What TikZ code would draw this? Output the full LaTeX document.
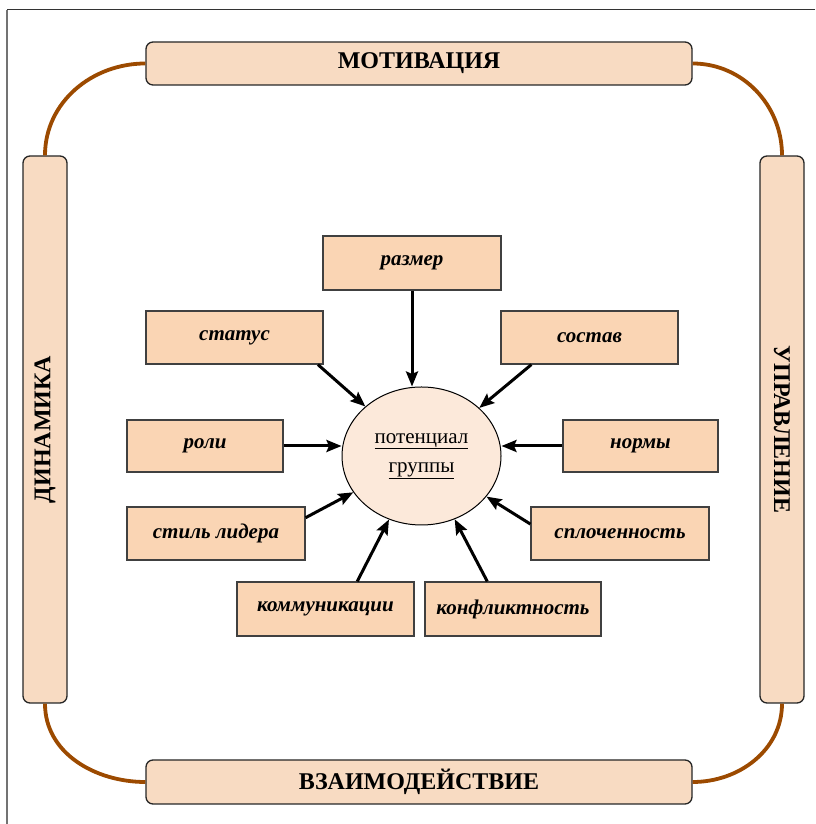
\documentclass[tikz,border=0pt]{standalone}
\usepackage{fontspec}
\setmainfont{Liberation Serif}
\usetikzlibrary{arrows.meta,shapes.geometric}
\definecolor{sidefill}{RGB}{248,219,194}
\definecolor{factorfill}{RGB}{250,213,180}
\definecolor{potfill}{RGB}{252,233,218}
\definecolor{linkbrown}{RGB}{156,74,0}
\tikzset{
  sidebox/.style={draw=black!85, line width=1.3pt, rounded corners=7pt, fill=sidefill, minimum width=546pt, minimum height=43pt, inner sep=0pt, font=\bfseries\fontsize{24}{28}\selectfont},
  factor/.style={draw=black!75, line width=1.2pt, fill=factorfill, minimum width=177pt, minimum height=53pt, inner sep=0pt, font=\bfseries\itshape\fontsize{21}{25}\selectfont},
  potnode/.style={draw, line width=1pt, ellipse, fill=potfill, minimum width=159pt, minimum height=138pt, inner sep=0pt, align=center, font=\fontsize{21}{29}\selectfont},
  potarrow/.style={-{Stealth[length=15pt,width=12pt,inset=2.5pt]}, line width=3pt},
  sidelink/.style={linkbrown, line width=3.8pt}
}

\begin{document}
\begin{tikzpicture}[x=1pt, y=1pt]
\useasboundingbox (0,0) rectangle (815,824);
\draw[black!80, line width=1pt] (815,814) -- (7,814);
\draw[black!55, line width=1.5pt] (7,814) -- (7,0);
% frame of four
\node[sidebox] (motiv) at (419,760.5) {МОТИВАЦИЯ};
\node[sidebox, minimum height=44pt] (vzaim) at (419,42) {ВЗАИМОДЕЙСТВИЕ};
\node[sidebox, minimum width=547pt, minimum height=44pt, rotate=90] (dinam) at (45,394.5) {ДИНАМИКА};
\node[sidebox, minimum width=547pt, minimum height=44pt, rotate=-90] (uprav) at (782,394.5) {УПРАВЛЕНИЕ};
\draw[sidelink] (motiv.west) to[out=180,in=90] (dinam.east);
\draw[sidelink] (motiv.east) to[out=0,in=90] (uprav.west);
\draw[sidelink] (vzaim.east) to[out=0,in=-90] (uprav.east);
\draw[sidelink] (vzaim.west) to[out=180,in=-90] (dinam.west);
% centre and factors
\node[potnode] (pot) at (421.5,368) {\underline{потенциал}\\\underline{группы}};
\node[factor, minimum width=178pt, minimum height=54pt] (razmer) at (412,561) {размер};
\node[factor] (status) at (234.5,486.5) {статус};
\node[factor] (sostav) at (589.5,486.5) {состав};
\node[factor, minimum width=156pt, minimum height=52pt] (roli) at (205,378) {роли};
\node[factor, minimum width=155pt, minimum height=52pt] (normy) at (640.5,378) {нормы};
\node[factor, minimum width=178pt] (lider) at (216,290.5) {стиль лидера};
\node[factor, minimum width=178pt] (splo) at (620,290.5) {сплоченность};
\node[factor, minimum height=54pt] (kommun) at (325.5,215) {коммуникации};
\node[factor, minimum width=176pt, minimum height=54pt] (konfl) at (513,215) {конфликтность};
\draw[potarrow] (razmer.south) -- (razmer.south |- pot.north);
\draw[potarrow] (status.-18) -- (pot);
\draw[potarrow] (sostav.-155) -- (pot);
\draw[potarrow] (roli.east) -- (roli.east -| pot.west);
\draw[potarrow] (normy.west) -- (normy.west -| pot.east);
\draw[potarrow] (lider.10) -- (pot);
\draw[potarrow] (splo.174) -- (pot);
\draw[potarrow] (kommun.41) -- (pot);
\draw[potarrow] (konfl.133) -- (pot);
\end{tikzpicture}
\end{document}
